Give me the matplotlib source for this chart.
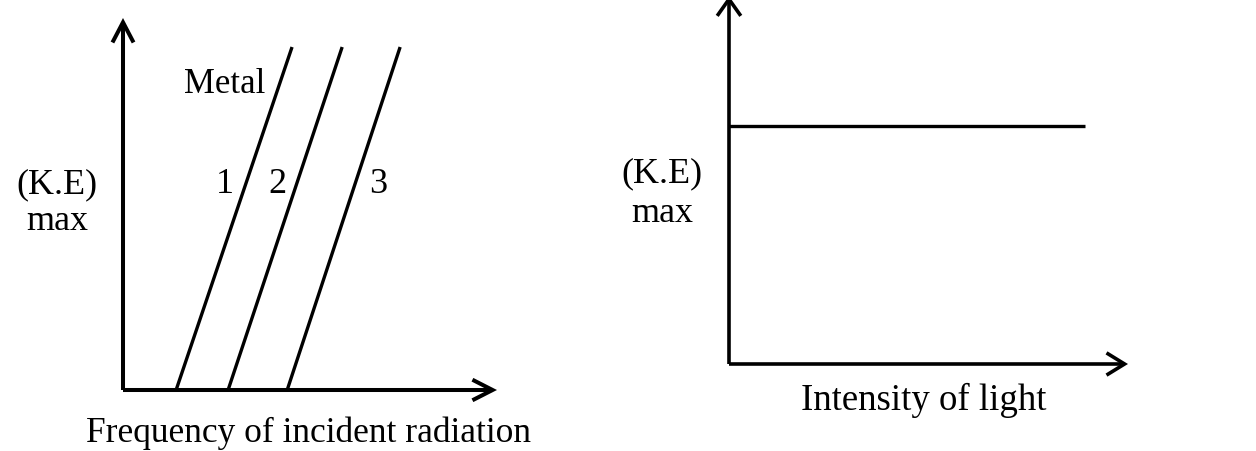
import matplotlib

matplotlib.use("Agg")
import matplotlib.pyplot as plt

plt.rcParams["font.family"] = ["Liberation Serif", "DejaVu Serif"]

# Left panel: KE_max against frequency for three metals (threshold -> top of line).
metal_labels = ["1", "2", "3"]
threshold_freq = [1.42, 2.81, 4.39]
top_freq = [4.52, 5.86, 7.41]
ke_top = 9.22
metal_label_x = [2.73, 4.12, 6.82]

# Right panel: KE_max does not depend on intensity.
intensity = [0.0, 8.92]
ke_const = [6.52, 6.52]

W, H = 1256, 452
fig = plt.figure(figsize=(W / 100, H / 100), dpi=100)


def _axes(x0, y0, x1, y1):
    # pixel box -> figure fraction
    ax = fig.add_axes([x0 / W, 1 - y0 / H, (x1 - x0) / W, (y0 - y1) / H])
    ax.set_xlim(0, 10)
    ax.set_ylim(0, 10)
    ax.axis("off")
    return ax


def _arrow(ax, tip, lw, hl, hw):
    ax.annotate("", xy=tip, xytext=(0, 0), annotation_clip=False,
                arrowprops=dict(arrowstyle=f"->,head_length={hl},head_width={hw}",
                                lw=lw, color="black", shrinkA=0, shrinkB=0,
                                mutation_scale=10, capstyle="butt", joinstyle="miter"))


ax1 = _axes(123, 391, 497, 19)
_arrow(ax1, (0, 10), 2.9, 1.45, 0.76)
_arrow(ax1, (10, 0), 2.9, 1.45, 0.74)
for f0, f1 in zip(threshold_freq, top_freq):
    ax1.plot([f0, f1], [0, ke_top], color="black", lw=2.4, solid_capstyle="butt")
for lab, x in zip(metal_labels, metal_label_x):
    ax1.text(x, 5.32, lab, ha="center", va="baseline", fontsize=26)
ax1.text(2.73, 8.01, "Metal", ha="center", va="baseline", fontsize=25)
ax1.text(-1.76, 5.32, "(K.E)", ha="center", va="baseline", fontsize=26, clip_on=False)
ax1.text(-1.76, 4.33, "max", ha="center", va="baseline", fontsize=26, clip_on=False)
ax1.text(4.97, -1.37, "Frequency of incident radiation", ha="center", va="baseline",
         fontsize=25.5, clip_on=False)

ax2 = _axes(729, 365, 1128, 0)
_arrow(ax2, (0, 10.08), 2.6, 1.2, 0.85)
_arrow(ax2, (10, 0), 2.6, 1.3, 0.8)
ax2.plot(intensity, ke_const, color="black", lw=2.4, solid_capstyle="butt")
ax2.text(-1.68, 5.01, "(K.E)", ha="center", va="baseline", fontsize=26, clip_on=False)
ax2.text(-1.68, 3.92, "max", ha="center", va="baseline", fontsize=26, clip_on=False)
ax2.text(4.89, -1.23, "Intensity of light", ha="center", va="baseline",
         fontsize=26.5, clip_on=False)

fig.savefig("out.png", dpi=100)
